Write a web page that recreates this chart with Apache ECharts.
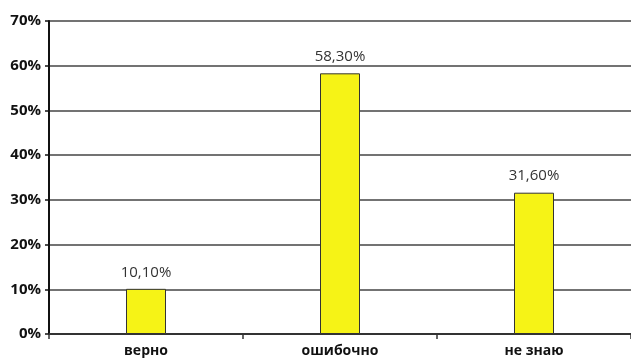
<!DOCTYPE html>
<html><head><meta charset="utf-8">
<script src="https://cdn.jsdelivr.net/npm/echarts@6/dist/echarts.min.js"></script>
<style>html,body{margin:0;padding:0;background:#fff}#c{width:631px;height:359px}</style>
</head><body><div id="c"></div>
<script>
const categories = ['верно', 'ошибочно', 'не знаю'];
const values = [10.1, 58.3, 31.6];
const valueLabels = ['10,10%', '58,30%', '31,60%'];
const yTicks = [0, 10, 20, 30, 40, 50, 60, 70];

const chart = echarts.init(document.getElementById('c'));
chart.setOption({
  animation: false,
  grid: { left: 49, right: 0, top: 21, bottom: 25 },
  xAxis: {
    type: 'category', data: categories,
    axisLine: { lineStyle: { color: '#333', width: 2 } },
    axisTick: { show: true, length: 5, lineStyle: { color: '#333', width: 1.5 } },
    axisLabel: { color: '#111', fontWeight: 'bold', fontSize: 14, fontFamily: 'Open Sans', margin: 10 }
  },
  yAxis: {
    type: 'value', min: 0, max: 70, interval: 10,
    axisLine: { show: true, lineStyle: { color: '#111', width: 2 } },
    axisTick: { show: true, length: 4, lineStyle: { color: '#111', width: 1.5 } },
    splitLine: { lineStyle: { color: '#444', width: 1.5 } },
    axisLabel: { formatter: v => yTicks.includes(v) ? v + '%' : '', color: '#111', fontWeight: 'bold', fontSize: 15, fontFamily: 'Open Sans', margin: 8 }
  },
  series: [{
    type: 'bar', data: values, barWidth: 40,
    itemStyle: { color: '#f6f316', borderColor: '#333', borderWidth: 1 },
    label: { show: true, position: 'top', distance: 9, color: '#333', fontSize: 15, fontFamily: 'Open Sans',
      formatter: p => valueLabels[p.dataIndex] }
  }]
});
</script></body></html>
